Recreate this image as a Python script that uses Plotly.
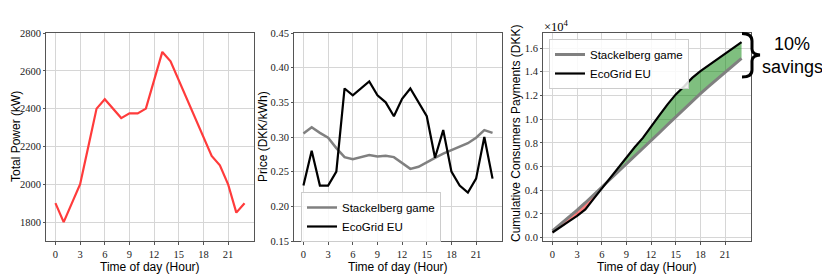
import numpy as np
import plotly.graph_objects as go

# ---------------- data ----------------
hours = list(range(24))
x_ticks = [0, 3, 6, 9, 12, 15, 18, 21]

total_power = [1900, 1800, 1900, 2000, 2200, 2400, 2450, 2400, 2350, 2375, 2375, 2400,
               2550, 2700, 2650, 2550, 2450, 2350, 2250, 2150, 2100, 2000, 1850, 1900]

price_stackelberg = [0.305, 0.314, 0.306, 0.299, 0.284, 0.271, 0.268, 0.271, 0.274, 0.272,
                     0.273, 0.271, 0.263, 0.254, 0.257, 0.264, 0.270, 0.276, 0.281, 0.287,
                     0.291, 0.299, 0.310, 0.306]
price_ecogrid = [0.23, 0.28, 0.23, 0.23, 0.25, 0.37, 0.36, 0.37, 0.38, 0.36, 0.35, 0.33,
                 0.355, 0.37, 0.35, 0.33, 0.27, 0.31, 0.25, 0.23, 0.22, 0.24, 0.30, 0.24]

cum_stackelberg = [580, 1145, 1726, 2324, 2949, 3599, 4256, 4906, 5550, 6196, 6844, 7494,
                   8165, 8851, 9532, 10205, 10867, 11516, 12148, 12765, 13376, 13974, 14548, 15129]
cum_ecogrid = [437, 941, 1378, 1838, 2388, 3276, 4158, 5046, 5939, 6794, 7625, 8417,
               9322, 10321, 11249, 12091, 12753, 13482, 14045, 14540, 15002, 15482, 16037, 16493]

power_ticks = [1800, 2000, 2200, 2400, 2600, 2800]
price_ticks = [0.15, 0.20, 0.25, 0.30, 0.35, 0.40, 0.45]
cum_ticks = [0, 2000, 4000, 6000, 8000, 10000, 12000, 14000, 16000]
cum_tick_labels = ["0.0", "0.2", "0.4", "0.6", "0.8", "1.0", "1.2", "1.4", "1.6"]

# ---------------- layout helpers ----------------
# the page body has an 8px margin, so the figure is offset by 8px in the window
OFF = 8
WIN_W, WIN_H = 830, 277
W, H = WIN_W - OFF, WIN_H - OFF

def px(x, y):
    """window pixel -> paper coordinates"""
    return (x - OFF) / W, 1 - (y - OFF) / H

def dom_x(a, b):
    return [(a - OFF) / W, (b - OFF) / W]

top_px, bot_px = 33, 241
ydom = [px(0, bot_px)[1], px(0, top_px)[1]]

SERIF = "Liberation Serif"
SANS = "Liberation Sans"
GRID = "#d6d6d6"
SPINE = "#555555"
TICKFONT = dict(family=SERIF, size=10.5, color="#222")

def xaxis_style(dom, anchor):
    return dict(domain=dom, anchor=anchor, range=[-1.15, 24.15], tickvals=x_ticks,
                showgrid=True, gridcolor=GRID, gridwidth=1.2, zeroline=False,
                showline=True, mirror=True, linecolor=SPINE, linewidth=1,
                ticks="outside", ticklen=3, tickcolor=SPINE,
                tickfont=TICKFONT, automargin=False)

def yaxis_style(anchor, rng, tickvals, ticktext):
    return dict(domain=ydom, anchor=anchor, range=rng, tickvals=tickvals, ticktext=ticktext,
                showgrid=True, gridcolor=GRID, gridwidth=1.2, zeroline=False,
                showline=True, mirror=True, linecolor=SPINE, linewidth=1,
                ticks="outside", ticklen=2, tickcolor=SPINE,
                tickfont=TICKFONT, automargin=False)

fig = go.Figure()

# ---------------- panel 1 : total power ----------------
fig.add_trace(go.Scatter(x=hours, y=total_power, mode="lines",
                         line=dict(color="#ff3b3b", width=2.2), showlegend=False,
                         xaxis="x", yaxis="y"))

# ---------------- panel 2 : price ----------------
fig.add_trace(go.Scatter(x=hours, y=price_stackelberg, mode="lines", name="Stackelberg game",
                         line=dict(color="#808080", width=2.5), legend="legend",
                         xaxis="x2", yaxis="y2"))
fig.add_trace(go.Scatter(x=hours, y=price_ecogrid, mode="lines", name="EcoGrid EU",
                         line=dict(color="black", width=2.2), legend="legend",
                         xaxis="x2", yaxis="y2"))

# ---------------- panel 3 : cumulative payments ----------------
hx = np.array(hours, dtype=float)
s = np.array(cum_stackelberg, dtype=float)
e = np.array(cum_ecogrid, dtype=float)
d = e - s

def region_polygons(sign):
    """Polygons between the two curves where sign*(e-s) > 0, with interpolated crossings."""
    polys = []
    cur_x, cur_top, cur_bot = [], [], []
    for i in range(len(hx)):
        inside = sign * d[i] > 0
        if i > 0 and (sign * d[i - 1] > 0) != inside:
            t = d[i - 1] / (d[i - 1] - d[i])
            xc = hx[i - 1] + t * (hx[i] - hx[i - 1])
            yc = s[i - 1] + t * (s[i] - s[i - 1])
            cur_x.append(xc); cur_top.append(yc); cur_bot.append(yc)
            if not inside:
                polys.append((cur_x, cur_top, cur_bot))
                cur_x, cur_top, cur_bot = [], [], []
        if inside:
            cur_x.append(hx[i]); cur_top.append(e[i]); cur_bot.append(s[i])
    if cur_x:
        polys.append((cur_x, cur_top, cur_bot))
    return polys

for sign, col in [(1, "rgba(0,128,0,0.5)"), (-1, "rgba(255,0,0,0.5)")]:
    for xs, tops, bots in region_polygons(sign):
        fig.add_trace(go.Scatter(x=list(xs) + list(xs)[::-1], y=list(tops) + list(bots)[::-1],
                                 mode="lines", fill="toself", fillcolor=col,
                                 line=dict(width=0), showlegend=False, hoverinfo="skip",
                                 xaxis="x3", yaxis="y3"))

fig.add_trace(go.Scatter(x=hours, y=cum_stackelberg, mode="lines", name="Stackelberg game",
                         line=dict(color="#808080", width=3), legend="legend2",
                         xaxis="x3", yaxis="y3"))
fig.add_trace(go.Scatter(x=hours, y=cum_ecogrid, mode="lines", name="EcoGrid EU",
                         line=dict(color="black", width=2.2), legend="legend2",
                         xaxis="x3", yaxis="y3"))

# ---------------- axes ----------------
p1 = (46, 254); p2 = (294, 502); p3 = (543, 751)
fig.update_layout(
    xaxis=xaxis_style(dom_x(*p1), "y"),
    yaxis=yaxis_style("x", [1700, 2800], power_ticks, [str(v) for v in power_ticks]),
    xaxis2=xaxis_style(dom_x(*p2), "y2"),
    yaxis2=yaxis_style("x2", [0.15, 0.45], price_ticks, [f"{v:.2f}" for v in price_ticks]),
    xaxis3=xaxis_style(dom_x(*p3), "y3"),
    yaxis3=yaxis_style("x3", [-280, 17270], cum_ticks, cum_tick_labels),
)

# ---------------- legends ----------------
leg_common = dict(bgcolor="rgba(255,255,255,0.85)", bordercolor="#cccccc", borderwidth=1,
                  font=dict(family=SANS, size=11.5, color="black"), xanchor="left",
                  yanchor="top", tracegroupgap=0, itemwidth=30)
lx, ly = px(301, 192)
l2x, l2y = px(549, 39)
fig.update_layout(legend=dict(x=lx, y=ly, **leg_common),
                  legend2=dict(x=l2x, y=l2y, **leg_common))

# ---------------- axis titles & annotations ----------------
ann = []
def text(x, y, t, size=12, family=SANS, angle=0, xanchor="center"):
    ax, ay = px(x, y)
    ann.append(dict(x=ax, y=ay, xref="paper", yref="paper", text=t, showarrow=False,
                    textangle=angle, xanchor=xanchor, yanchor="middle",
                    font=dict(family=family, size=size, color="black")))

for (a, b) in (p1, p2, p3):
    text((a + b) / 2, 267, "Time of day (Hour)")
text(16, 137, "Total Power (kW)", angle=-90)
text(263, 137, "Price (DKK/kWh)", angle=-90)
text(516, 134, "Cumulative Consumers Payments (DKK)", angle=-90)
text(542, 26, "×10<sup>4</sup>", size=12.5, family=SERIF, xanchor="left")
text(792, 44, "10%", size=18)
text(792, 67, "savings", size=18)
fig.update_layout(annotations=ann)

# curly brace
def P(x, y):
    a, b = px(x, y)
    return f"{a:.5f},{b:.5f}"
brace = (f"M {P(742,33.5)} Q {P(752,33.5)} {P(752,41)} L {P(752,49)} "
         f"Q {P(752,54.5)} {P(760,55)} Q {P(752,55.5)} {P(752,61)} L {P(752,70)} "
         f"Q {P(752,77)} {P(742,77)}")
fig.add_shape(type="path", path=brace, xref="paper", yref="paper",
              line=dict(color="black", width=3))

fig.update_layout(width=W, height=H, margin=dict(l=0, r=0, t=0, b=0),
                  paper_bgcolor="white", plot_bgcolor="white", template="none",
                  hovermode=False)

fig.write_html("out.html")
